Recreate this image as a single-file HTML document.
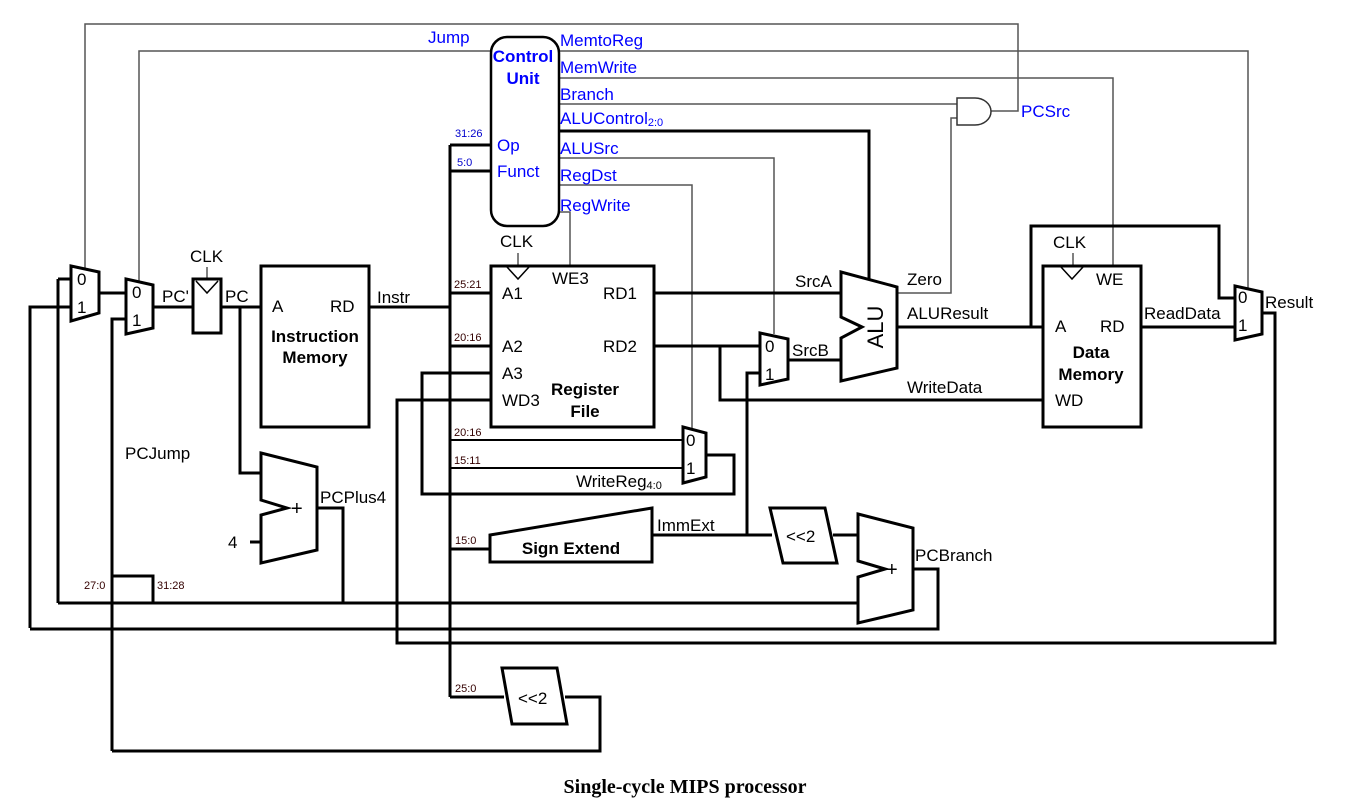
<!DOCTYPE html>
<html><head><meta charset="utf-8"><style>
html,body{margin:0;padding:0;background:#fff;}
svg{display:block;}
text{font-family:"Liberation Sans",Arial,sans-serif;}
</style></head><body>
<svg width="1350" height="804" viewBox="0 0 1350 804" xmlns="http://www.w3.org/2000/svg">
<g fill="none" stroke="#555" stroke-width="1.5">
<polyline points="85,270 85,24 1018,24 1018,111 991,111"/>
<polyline points="139,282 139,51 491,51"/>
<polyline points="559,51 1248,51 1248,288"/>
<polyline points="559,78 1113,78 1113,266"/>
<polyline points="559,104 957,104"/>
<polyline points="559,158 774,158 774,334"/>
<polyline points="559,185 692,185 692,430"/>
<polyline points="559,212 570,212 570,266"/>
<polyline points="897,293 951,293 951,118 957,118"/>
<line x1="207" y1="267" x2="207" y2="280"/>
<line x1="518" y1="253" x2="518" y2="266"/>
<line x1="1073" y1="253" x2="1073" y2="266"/>
</g>
<path d="M957,98 H975 A16,13.5 0 0 1 975,125 H957 Z" fill="#fff" stroke="#333" stroke-width="1.5"/>
<g fill="none" stroke="#000" stroke-width="3">
<polyline points="559,131 869,131 869,283"/>
<polyline points="58,279 71,279"/><line x1="58" y1="279" x2="58" y2="603"/>
<polyline points="30,628 30,307 71,307"/>
<line x1="99" y1="293" x2="126" y2="293"/>
<polyline points="112,751 112,319 126,319"/>
<line x1="153" y1="307" x2="193" y2="307"/>
<line x1="221" y1="307" x2="261" y2="307"/>
<polyline points="240,307 240,473 261,473"/>
<line x1="250" y1="542" x2="261" y2="542"/>
<polyline points="317,508 343,508 343,603"/>
<line x1="58" y1="603" x2="858" y2="603"/>
<polyline points="153,603 153,576 112,576"/>
<line x1="369" y1="307" x2="450" y2="307"/>
<line x1="450" y1="145" x2="450" y2="697"/>
<line x1="450" y1="145" x2="491" y2="145"/>
<line x1="450" y1="171" x2="491" y2="171"/>
<line x1="450" y1="293" x2="491" y2="293"/>
<line x1="450" y1="346" x2="491" y2="346"/>
<polyline points="491,373 422,373 422,494 734,494 734,455 706,455"/>
<polyline points="491,400 397,400 397,643 1275,643 1275,313 1262,313"/>
<line x1="450" y1="549" x2="490" y2="549"/>
<line x1="450" y1="697" x2="504" y2="697"/>
<polyline points="565,697 600,697 600,751 112,751"/>
<line x1="654" y1="293" x2="841" y2="293"/>
<line x1="654" y1="346" x2="760" y2="346"/>
<polyline points="720,346 720,400 1043,400"/>
<polyline points="747,535 747,373 760,373"/>
<line x1="788" y1="360" x2="841" y2="360"/>
<line x1="652" y1="535" x2="772" y2="535"/>
<line x1="833" y1="535" x2="858" y2="535"/>
<polyline points="913,569 938,569 938,629 30,629"/>
<line x1="897" y1="327" x2="1043" y2="327"/>
<polyline points="1031,327 1031,226 1219,226 1219,298 1235,298"/>
<line x1="1141" y1="327" x2="1235" y2="327"/>
<line x1="450" y1="440" x2="683" y2="440" stroke-width="2"/>
<line x1="450" y1="468" x2="683" y2="468" stroke-width="2"/>
</g>
<g fill="#fff" stroke="#000" stroke-width="3" stroke-linejoin="miter">
<polygon points="71,266 99,272 99,313 71,321"/>
<polygon points="126,279 153,285 153,328 126,334"/>
<rect x="193" y="279" width="28" height="54"/>
<rect x="261" y="266" width="108" height="161"/>
<rect x="491" y="266" width="163" height="161"/>
<rect x="1043" y="266" width="98" height="161"/>
<polygon points="683,427 706,433 706,477 683,483"/>
<polygon points="760,333 788,339 788,379 760,385"/>
<polygon points="1235,286 1262,292 1262,334 1235,340"/>
<polygon points="841,272 897,287 897,368 841,381 841,338 862,327 841,317"/>
<polygon points="261,453 317,467 317,550 261,563 261,515 287,508 261,500"/>
<polygon points="858,514 913,528 913,610 858,623 858,577 885,569 858,561"/>
<polygon points="490,535 652,508 652,562 490,562"/>
<polygon points="770,508 825,508 837,563 783,563"/>
<polygon points="502,668 557,668 567,724 512,724"/>
</g>
<g fill="none" stroke="#000" stroke-width="1.5">
<polyline points="196,281 207,293 218,281"/>
<polyline points="507,267 518,279 529,267"/>
<polyline points="1061,267 1072,279 1083,267"/>
</g>
<rect x="491" y="37" width="68" height="189" rx="16" fill="#fff" stroke="#000" stroke-width="2.5"/>
<g font-size="17" fill="#00f">
<text x="523" y="62" text-anchor="middle" font-weight="bold">Control</text>
<text x="523" y="84" text-anchor="middle" font-weight="bold">Unit</text>
<text x="497" y="151">Op</text>
<text x="497" y="177">Funct</text>
<text x="560" y="46">MemtoReg</text>
<text x="560" y="73">MemWrite</text>
<text x="560" y="100">Branch</text>
<text x="560" y="124">ALUControl<tspan font-size="11" dy="2">2:0</tspan></text>
<text x="560" y="154">ALUSrc</text>
<text x="560" y="181">RegDst</text>
<text x="560" y="211">RegWrite</text>
<text x="428" y="43">Jump</text>
<text x="1021" y="117">PCSrc</text>
</g>
<g font-size="11" fill="#00c">
<text x="455" y="137">31:26</text>
<text x="457" y="166">5:0</text>
</g>
<g font-size="11" fill="#300">
<text x="454" y="288">25:21</text>
<text x="454" y="341">20:16</text>
<text x="454" y="436">20:16</text>
<text x="454" y="464">15:11</text>
<text x="455" y="544">15:0</text>
<text x="455" y="692">25:0</text>
<text x="84" y="589">27:0</text>
<text x="157" y="589">31:28</text>
</g>
<g font-size="17" fill="#000">
<text x="77" y="285">0</text><text x="77" y="313">1</text>
<text x="132" y="298">0</text><text x="132" y="326">1</text>
<text x="162" y="302">PC'</text><text x="225" y="302">PC</text>
<text x="190" y="262">CLK</text>
<text x="272" y="312">A</text><text x="330" y="312">RD</text>
<text x="377" y="303">Instr</text>
<text x="502" y="299">A1</text><text x="502" y="352">A2</text><text x="502" y="379">A3</text><text x="502" y="406">WD3</text>
<text x="552" y="284">WE3</text><text x="603" y="299">RD1</text><text x="603" y="352">RD2</text>
<text x="500" y="247">CLK</text>
<text x="686" y="446">0</text><text x="686" y="474">1</text>
<text x="576" y="487">WriteReg<tspan font-size="11" dy="2">4:0</tspan></text>
<text x="765" y="352">0</text><text x="765" y="380">1</text>
<text x="795" y="287">SrcA</text><text x="792" y="356">SrcB</text>
<text x="907" y="285">Zero</text><text x="907" y="319">ALUResult</text><text x="907" y="393">WriteData</text>
<text x="1053" y="248">CLK</text><text x="1096" y="285">WE</text>
<text x="1055" y="332">A</text><text x="1100" y="332">RD</text><text x="1055" y="406">WD</text>
<text x="1144" y="319">ReadData</text>
<text x="1238" y="303">0</text><text x="1238" y="331">1</text>
<text x="1265" y="308">Result</text>
<text x="125" y="459">PCJump</text>
<text x="320" y="503">PCPlus4</text>
<text x="228" y="548">4</text>
<text x="915" y="561">PCBranch</text>
<text x="657" y="531">ImmExt</text>
<text x="786" y="542">&lt;&lt;2</text>
<text x="518" y="704">&lt;&lt;2</text>
</g>
<text x="291" y="515" font-size="20">+</text>
<text x="886" y="576" font-size="20">+</text>
<g font-size="17" font-weight="bold" fill="#000" text-anchor="middle">
<text x="315" y="342">Instruction</text><text x="315" y="363">Memory</text>
<text x="585" y="395">Register</text><text x="585" y="417">File</text>
<text x="1091" y="358">Data</text><text x="1091" y="380">Memory</text>
<text x="571" y="554">Sign Extend</text>
</g>
<text x="0" y="0" font-size="22" transform="translate(883,327) rotate(-90)" text-anchor="middle">ALU</text>
<text x="685" y="793" text-anchor="middle" font-weight="bold" font-size="20" style="font-family:'Liberation Serif',serif">Single-cycle MIPS processor</text>
</svg>
</body></html>
